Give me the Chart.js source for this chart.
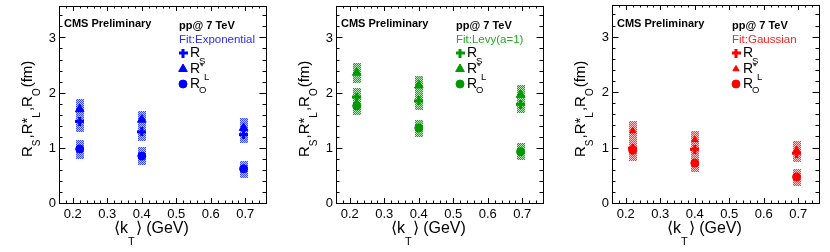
<!DOCTYPE html>
<html>
<head>
<meta charset="utf-8">
<script src="https://cdn.jsdelivr.net/npm/chart.js@4.4.1/dist/chart.umd.min.js"></script>
<style>
  html, body { margin: 0; padding: 0; background: #fff; }
  #wrap { position: relative; width: 830px; height: 252px; }
  canvas { position: absolute; top: 0; }
</style>
</head>
<body>
<div id="wrap">
  <canvas id="c1" width="277" height="252" style="left:0px"></canvas>
  <canvas id="c2" width="277" height="252" style="left:277px"></canvas>
  <canvas id="c3" width="277" height="252" style="left:553px"></canvas>
</div>
<script>
// <kT> bins (GeV)
var kT = [0.22, 0.40, 0.695];
var xTicks = [0.2, 0.3, 0.4, 0.5, 0.6, 0.7];
var yTicks = [0, 1, 2, 3];

// Exponential fit
var rsExp = [1.48, 1.29, 1.24], rsExpErr = [0.19, 0.17, 0.15];
var rlExp = [1.70, 1.51, 1.36], rlExpErr = [0.18, 0.16, 0.18];
var roExp = [0.98, 0.85, 0.62], roExpErr = [0.17, 0.16, 0.15];

// Levy (a=1) fit
var rsLevy = [1.92, 1.85, 1.79], rsLevyErr = [0.17, 0.16, 0.15];
var rlLevy = [2.36, 2.13, 1.96], rlLevyErr = [0.18, 0.17, 0.17];
var roLevy = [1.76, 1.36, 0.93], roLevyErr = [0.17, 0.15, 0.15];

// Gaussian fit
var rsGaus = [0.99, 0.97, 0.90], rsGausErr = [0.20, 0.18, 0.16];
var rlGaus = [1.30, 1.14, 0.96], rlGausErr = [0.17, 0.16, 0.16];
var roGaus = [0.95, 0.72, 0.47], roGausErr = [0.20, 0.16, 0.15];

var FONT = "'Liberation Sans', Arial, Helvetica, sans-serif";

var panels = [
  { id: "c1", fit: "Fit:Exponential", color: "#0000ff", fitColor: "#2a2aff",
    dark: "rgb(60,80,255)", light: "rgb(185,195,255)", triR: 5,
    rs: rsExp, rsErr: rsExpErr, rl: rlExp, rlErr: rlExpErr, ro: roExp, roErr: roExpErr },
  { id: "c2", fit: "Fit:Levy(a=1)", color: "#009a00", fitColor: "#22aa22",
    dark: "rgb(30,165,30)", light: "rgb(180,230,180)", triR: 5,
    rs: rsLevy, rsErr: rsLevyErr, rl: rlLevy, rlErr: rlLevyErr, ro: roLevy, roErr: roLevyErr },
  { id: "c3", fit: "Fit:Gaussian", color: "#ff0000", fitColor: "#ff2020",
    dark: "rgb(255,60,60)", light: "rgb(255,195,195)", triR: 3.6,
    rs: rsGaus, rsErr: rsGausErr, rl: rlGaus, rlErr: rlGausErr, ro: roGaus, roErr: roGausErr }
];

function pts(vals) {
  return vals.map(function (v, i) { return { x: kT[i], y: v }; });
}

// thick filled plus, like the ROOT marker
function plusImage(color) {
  var c = document.createElement("canvas");
  c.width = 9; c.height = 9;
  var g = c.getContext("2d");
  g.fillStyle = color;
  g.fillRect(3, 0, 3, 9);
  g.fillRect(0, 3, 9, 3);
  return c;
}

function makePattern(ctx, dark, light) {
  var p = document.createElement("canvas");
  p.width = 2; p.height = 2;
  var c = p.getContext("2d");
  c.fillStyle = light; c.fillRect(0, 0, 2, 2);
  c.fillStyle = dark; c.fillRect(0, 0, 1, 1); c.fillRect(1, 1, 1, 1);
  return ctx.createPattern(p, "repeat");
}

// text pieces, subscripts shifted down by subDy
function drawPieces(ctx, pieces, x, y, size, subSize, subDy) {
  pieces.forEach(function (p) {
    ctx.font = (p.sub ? subSize : size) + "px " + FONT;
    ctx.fillText(p.t, x, y + (p.sub ? subDy : 0));
    x += ctx.measureText(p.t).width + (p.sub ? 1 : 0);
  });
}

function rootPlugin(panel) {
  return {
    id: "rootStyle",
    beforeDatasetsDraw: function (chart) {
      var ctx = chart.ctx, xs = chart.scales.x, ys = chart.scales.y;
      ctx.save();
      ctx.fillStyle = makePattern(ctx, panel.dark, panel.light);
      [[panel.ro, panel.roErr], [panel.rs, panel.rsErr], [panel.rl, panel.rlErr]].forEach(function (s) {
        s[0].forEach(function (v, i) {
          var x0 = xs.getPixelForValue(kT[i] - 0.011), x1 = xs.getPixelForValue(kT[i] + 0.011);
          var y0 = ys.getPixelForValue(v + s[1][i]), y1 = ys.getPixelForValue(v - s[1][i]);
          ctx.fillRect(Math.round(x0), Math.round(y0), Math.round(x1 - x0), Math.round(y1 - y0));
        });
      });
      ctx.restore();
    },
    afterDraw: function (chart) {
      var ctx = chart.ctx, a = chart.chartArea, xs = chart.scales.x, ys = chart.scales.y;
      var i, v, px, py, len;
      ctx.save();
      ctx.strokeStyle = "#000";
      ctx.lineWidth = 1;
      ctx.strokeRect(Math.round(a.left) + 0.5, Math.round(a.top) + 0.5,
        Math.round(a.right - a.left), Math.round(a.bottom - a.top));
      ctx.beginPath();
      // x ticks every 0.02, major every 0.1
      for (i = 8; i <= 38; i++) {
        v = i * 0.02;
        px = Math.round(xs.getPixelForValue(v)) + 0.5;
        len = (i % 5 === 0) ? 5 : 2.5;
        ctx.moveTo(px, a.bottom); ctx.lineTo(px, a.bottom - len);
        ctx.moveTo(px, a.top); ctx.lineTo(px, a.top + len);
      }
      // y ticks every 0.2, major every 1
      for (i = 0; i <= 17; i++) {
        v = i * 0.2;
        py = Math.round(ys.getPixelForValue(v)) + 0.5;
        len = (i % 5 === 0) ? 6.5 : 3.5;
        ctx.moveTo(a.left, py); ctx.lineTo(a.left + len, py);
        ctx.moveTo(a.right, py); ctx.lineTo(a.right - len, py);
      }
      ctx.stroke();

      // tick labels
      ctx.fillStyle = "#000";
      ctx.textBaseline = "middle";
      ctx.font = "13px " + FONT;
      ctx.textAlign = "center";
      xTicks.forEach(function (t) {
        ctx.fillText(t.toFixed(1), xs.getPixelForValue(t), a.bottom + 11.5);
      });
      ctx.textAlign = "right";
      yTicks.forEach(function (t) {
        ctx.fillText(String(t), a.left - 3, ys.getPixelForValue(t) + 0.5);
      });

      // header texts
      ctx.textAlign = "left";
      ctx.font = "bold 11px " + FONT;
      ctx.fillText("CMS Preliminary", a.left + 5, 24);
      ctx.fillText("pp@ 7 TeV", a.left + 120, 26);
      ctx.fillStyle = panel.fitColor;
      ctx.font = "11.5px " + FONT;
      ctx.fillText(panel.fit, a.left + 120, 40);

      // legend
      var lx = a.left + 124, rows = [53, 69, 84];
      ctx.fillStyle = panel.color; ctx.strokeStyle = panel.color;
      ctx.drawImage(plusImage(panel.color), lx - 4.5, rows[0] - 4.5);
      Chart.helpers.drawPoint(ctx, { pointStyle: "triangle", radius: panel.triR, borderWidth: 1, rotation: 0 }, lx, rows[1]);
      Chart.helpers.drawPoint(ctx, { pointStyle: "circle", radius: 4, borderWidth: 1, rotation: 0 }, lx, rows[2]);
      ctx.fillStyle = "#000";
      ctx.font = "14px " + FONT;
      ctx.fillText("R", lx + 7, rows[0]);
      ctx.fillText("R", lx + 7, rows[1]);
      ctx.fillText("R", lx + 7, rows[2]);
      ctx.font = "9.5px " + FONT;
      ctx.fillText("*", lx + 17, rows[1] - 3);
      ctx.fillText("S", lx + 16, rows[0] + 8.5);
      ctx.fillText("L", lx + 21, rows[1] + 8);
      ctx.fillText("O", lx + 16, rows[2] + 6);

      // x title
      drawPieces(ctx, [{ t: "\u27E8k" }, { t: "T", sub: true }, { t: "\u27E9 (GeV)" }],
        a.left + 55, 229, 16, 11, 13);

      // y title (rotated)
      ctx.translate(a.left - 31, 157);
      ctx.rotate(-Math.PI / 2);
      drawPieces(ctx, [{ t: "R" }, { t: "S", sub: true }, { t: ",R*" }, { t: "L", sub: true },
        { t: ",R" }, { t: "O", sub: true }, { t: "(fm)" }], 0, 0, 15, 10, 9);
      ctx.restore();
    }
  };
}

panels.forEach(function (panel) {
  var ctx = document.getElementById(panel.id).getContext("2d");
  new Chart(ctx, {
    type: "scatter",
    data: {
      datasets: [
        { label: "R_O", data: pts(panel.ro), pointStyle: "circle", pointRadius: 4,
          backgroundColor: panel.color, borderColor: panel.color, borderWidth: 1 },
        { label: "R_S", data: pts(panel.rs), pointStyle: plusImage(panel.color), pointRadius: 4.5,
          backgroundColor: panel.color, borderColor: panel.color, borderWidth: 0 },
        { label: "R*_L", data: pts(panel.rl), pointStyle: "triangle", pointRadius: panel.triR,
          backgroundColor: panel.color, borderColor: panel.color, borderWidth: 1 }
      ]
    },
    options: {
      responsive: false,
      animation: false,
      layout: { padding: { top: 5, right: 11, left: 0, bottom: 0 } },
      plugins: { legend: { display: false }, tooltip: { enabled: false } },
      scales: {
        x: {
          type: "linear", min: 0.16, max: 0.76,
          grid: { display: false }, border: { display: false },
          ticks: { display: false },
          afterFit: function (s) { s.height = 49; }
        },
        y: {
          type: "linear", min: 0, max: 3.57,
          grid: { display: false }, border: { display: false },
          ticks: { display: false },
          afterFit: function (s) { s.width = 59; }
        }
      }
    },
    plugins: [rootPlugin(panel)]
  });
});
</script>
</body>
</html>
